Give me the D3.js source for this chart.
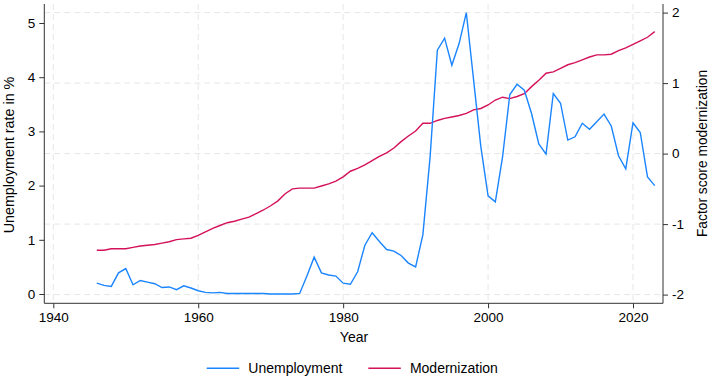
<!DOCTYPE html>
<html>
<head>
<meta charset="utf-8">
<script src="https://cdn.jsdelivr.net/npm/d3@7"></script>
<style>
  body { margin: 0; background: #fff; }
  text { font-family: "Liberation Sans", Arial, sans-serif; fill: #000; }
</style>
</head>
<body>
<div id="container"></div>
<script>
/* CONSTANTS AND GLOBALS */
const width = 709;
const height = 379;

/* DATA */
const years = d3.range(1946, 2024);
const unemployment = [
  0.20, 0.16, 0.14, 0.39, 0.47, 0.17, 0.25, 0.22, 0.19, 0.12,
  0.13, 0.08, 0.15, 0.11, 0.06, 0.03, 0.02, 0.03, 0.01, 0.01,
  0.01, 0.01, 0.01, 0.01, 0.00, 0.00, 0.00, 0.00, 0.01, 0.33,
  0.68, 0.39, 0.35, 0.33, 0.20, 0.18, 0.41, 0.90, 1.13, 0.97,
  0.82, 0.79, 0.71, 0.57, 0.50, 1.09, 2.53, 4.50, 4.72, 4.22,
  4.62, 5.19, 3.95, 2.72, 1.81, 1.70, 2.53, 3.68, 3.87, 3.76,
  3.33, 2.77, 2.58, 3.70, 3.52, 2.84, 2.90, 3.15, 3.04, 3.18,
  3.32, 3.10, 2.55, 2.31, 3.16, 2.98, 2.16, 2.00
];
const modernization = [
  -1.37, -1.37, -1.35, -1.35, -1.35, -1.33, -1.31, -1.30, -1.29, -1.27,
  -1.25, -1.22, -1.21, -1.20, -1.16, -1.11, -1.06, -1.02, -0.98, -0.96,
  -0.93, -0.90, -0.85, -0.80, -0.74, -0.67, -0.57, -0.50, -0.49, -0.49,
  -0.49, -0.46, -0.43, -0.39, -0.33, -0.25, -0.21, -0.16, -0.10, -0.04,
  0.01, 0.08, 0.17, 0.25, 0.32, 0.43, 0.43, 0.47, 0.50, 0.52,
  0.54, 0.57, 0.62, 0.64, 0.69, 0.76, 0.80, 0.78, 0.81, 0.85,
  0.95, 1.04, 1.14, 1.16, 1.21, 1.26, 1.29, 1.33, 1.37, 1.40,
  1.40, 1.41, 1.46, 1.50, 1.55, 1.60, 1.65, 1.73
];
const xTicks = [1940, 1960, 1980, 2000, 2020];
const leftTicks = [0, 1, 2, 3, 4, 5];
const rightTicks = [-2, -1, 0, 1, 2];

const blue = "#1a85ff";
const red = "#d41159";

/* LAYOUT */
const plot = { left: 44.3, right: 663, top: 4, bottom: 303.3 };

/* SCALES */
const xScale = d3.scaleLinear().domain([1940, 2020]).range([53.3, 633]);
const yLeft = d3.scaleLinear().domain([0, 5]).range([294, 23]);
const yRight = d3.scaleLinear().domain([-2, 2]).range([294.6, 12.6]);

const svg = d3.select("#container")
  .append("svg")
  .attr("width", width)
  .attr("height", height);

// gridlines (dashed, light)
const grid = svg.append("g").attr("stroke", "#e6e6e6").attr("stroke-width", 1).attr("stroke-dasharray", "6,4");
grid.selectAll("line.h")
  .data(rightTicks)
  .join("line")
  .attr("class", "h")
  .attr("x1", plot.left).attr("x2", plot.right)
  .attr("y1", d => yRight(d)).attr("y2", d => yRight(d));
grid.selectAll("line.v")
  .data(xTicks)
  .join("line")
  .attr("class", "v")
  .attr("x1", d => xScale(d)).attr("x2", d => xScale(d))
  .attr("y1", plot.top).attr("y2", plot.bottom);

// lines
const uLine = d3.line().x((d, i) => xScale(years[i])).y(d => yLeft(d));
const mLine = d3.line().x((d, i) => xScale(years[i])).y(d => yRight(d));

svg.append("path")
  .datum(modernization)
  .attr("d", mLine)
  .attr("fill", "none")
  .attr("stroke", red)
  .attr("stroke-width", 1.4);

svg.append("path")
  .datum(unemployment)
  .attr("d", uLine)
  .attr("fill", "none")
  .attr("stroke", blue)
  .attr("stroke-width", 1.4);

/* AXES */
const axisColor = "#333";

// x axis
const xAxis = svg.append("g")
  .attr("transform", `translate(0,${plot.bottom})`)
  .call(d3.axisBottom(xScale).tickValues(xTicks).tickSize(5).tickPadding(4).tickFormat(d3.format("d")));
xAxis.select(".domain").remove();
xAxis.selectAll("line").attr("stroke", axisColor);
xAxis.selectAll("text").attr("font-size", 13.5).attr("fill", "#000");

// left axis
const lAxis = svg.append("g")
  .attr("transform", `translate(${plot.left},0)`)
  .call(d3.axisLeft(yLeft).tickValues(leftTicks).tickSize(5).tickPadding(4).tickFormat(d3.format("d")));
lAxis.select(".domain").remove();
lAxis.selectAll("line").attr("stroke", axisColor);
lAxis.selectAll("text").attr("font-size", 13.5).attr("fill", "#000");

// right axis
const rAxis = svg.append("g")
  .attr("transform", `translate(${plot.right},0)`)
  .call(d3.axisRight(yRight).tickValues(rightTicks).tickSize(5).tickPadding(4).tickFormat(d => d < 0 ? "-" + Math.abs(d) : d));
rAxis.select(".domain").remove();
rAxis.selectAll("line").attr("stroke", axisColor);
rAxis.selectAll("text").attr("font-size", 13.5).attr("fill", "#000");

// axis lines
svg.append("line").attr("x1", plot.left).attr("x2", plot.left).attr("y1", plot.top).attr("y2", plot.bottom).attr("stroke", axisColor);
svg.append("line").attr("x1", plot.right).attr("x2", plot.right).attr("y1", plot.top).attr("y2", plot.bottom).attr("stroke", axisColor);
svg.append("line").attr("x1", plot.left).attr("x2", plot.right).attr("y1", plot.bottom).attr("y2", plot.bottom).attr("stroke", axisColor);

// axis titles
svg.append("text")
  .attr("x", 354).attr("y", 341.7)
  .attr("text-anchor", "middle")
  .attr("font-size", 14)
  .text("Year");

svg.append("text")
  .attr("transform", "translate(14,155) rotate(-90)")
  .attr("text-anchor", "middle")
  .attr("font-size", 14.3)
  .text("Unemployment rate in %");

svg.append("text")
  .attr("transform", "translate(706.5,153.5) rotate(-90)")
  .attr("text-anchor", "middle")
  .attr("font-size", 13.8)
  .text("Factor score modernization");

/* LEGEND */
const legend = [
  { name: "Unemployment", color: blue, x: 206.7 },
  { name: "Modernization", color: red, x: 368.3 }
];
const lg = svg.append("g");
lg.selectAll("line")
  .data(legend)
  .join("line")
  .attr("x1", d => d.x).attr("x2", d => d.x + 32.5)
  .attr("y1", 368.3).attr("y2", 368.3)
  .attr("stroke", d => d.color)
  .attr("stroke-width", 1.4);
lg.selectAll("text")
  .data(legend)
  .join("text")
  .attr("x", d => d.x + 41.6)
  .attr("y", 372.8)
  .attr("font-size", 14)
  .text(d => d.name);
</script>
</body>
</html>
